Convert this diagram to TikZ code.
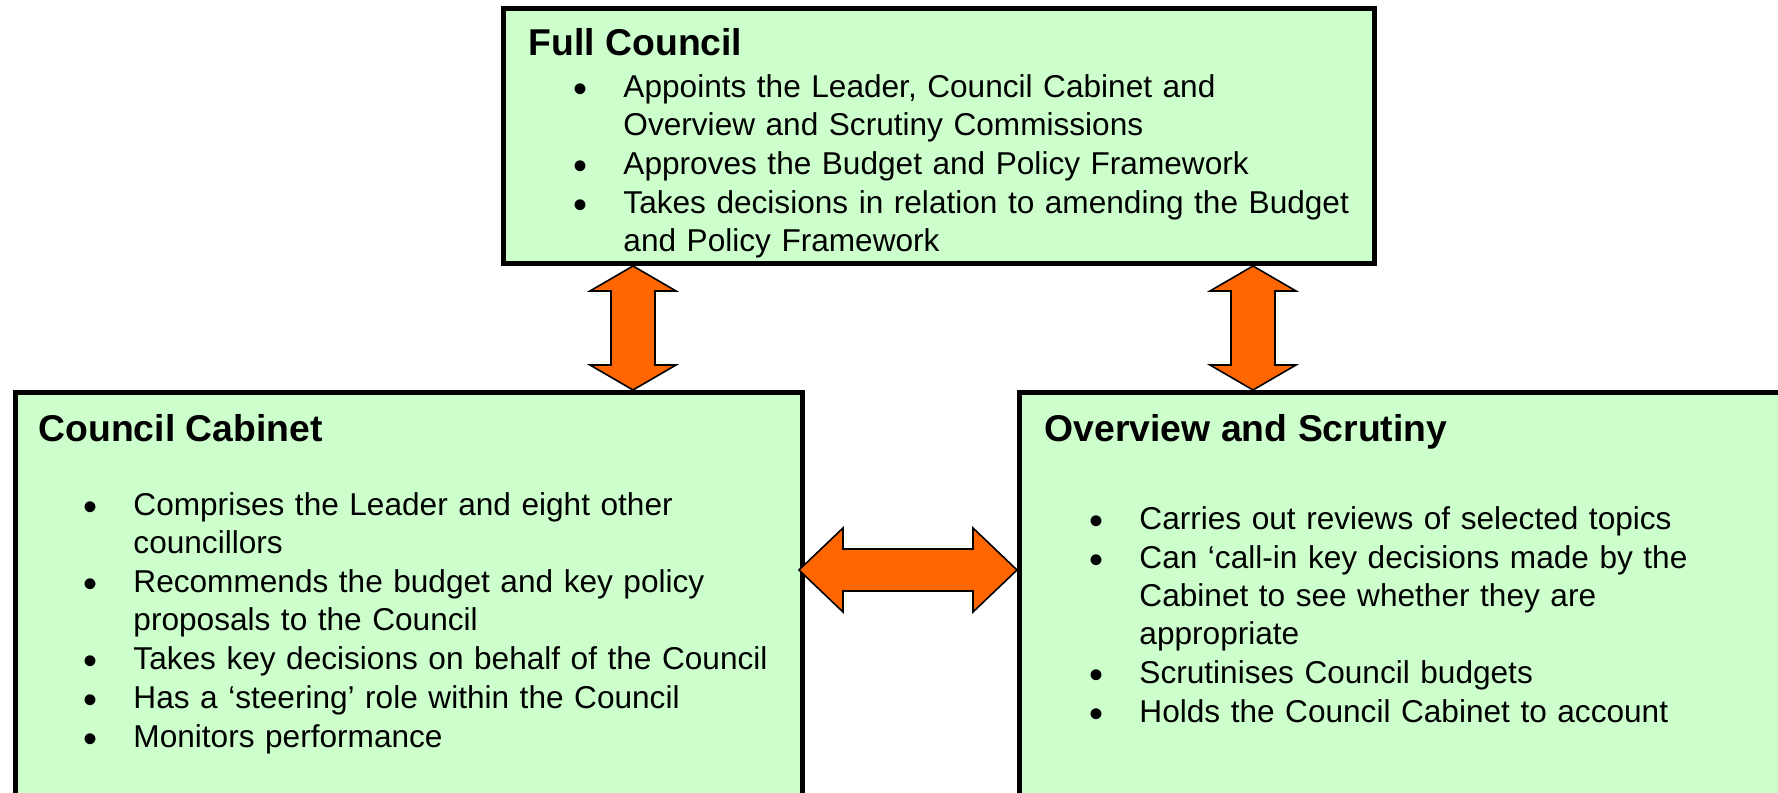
\documentclass[tikz,border=0pt]{standalone}
\usepackage{fontspec}
\setmainfont{Liberation Sans}
\usepackage{enumitem}
\usepackage{tikz}
\usetikzlibrary{positioning, calc}

\definecolor{panelgreen}{HTML}{CCFFCC}
\definecolor{arroworange}{HTML}{FF6600}
\setlist[itemize]{label={\fontsize{15pt}{14pt}\selectfont\raisebox{-1.8pt}{\textbullet}}, leftmargin=35.6pt, labelsep=13.4pt, topsep=0pt, partopsep=0pt, parsep=0pt, itemsep=0.3pt}
\newcommand{\paneltitle}[1]{{\fontsize{14pt}{14.3pt}\selectfont\bfseries #1\par}}

\begin{document}
\begin{tikzpicture}[x=0.375pt, y=-0.375pt,
  panel/.style={draw=black, line width=2pt, fill=panelgreen, inner sep=0pt, anchor=north west},
  paneltext/.style={anchor=north west, inner sep=0pt, font=\fontsize{11.85pt}{14.3pt}\selectfont},
  bigarrow/.style={draw=black, line width=0.6pt, fill=arroworange, line join=miter}]

\useasboundingbox (0,0) rectangle (1778,793);
\clip (0,0) rectangle (1778,793);

% the three panels
\node[panel, minimum width=326.5pt, minimum height=95.5pt] (full) at (501,6) {};
\node[panel, minimum width=295pt, minimum height=163pt] (cabinet) at (13,390) {};
\node[panel, minimum width=299pt, minimum height=163pt] (scrutiny) at (1017,390) {};

\node[paneltext, text width=318pt] (fulltext) at ($(full.north west)+(27,22)$) {%
  \paneltitle{Full Council}\vspace{1.45pt}
  \begin{itemize}
  \item Appoints the Leader, Council Cabinet and\newline Overview and Scrutiny Commissions
  \item Approves the Budget and Policy Framework
  \item Takes decisions in relation to amending the Budget\newline and Policy Framework
  \end{itemize}};

\node[paneltext, text width=287pt] (cabinettext) at ($(cabinet.north west)+(25,24)$) {%
  \paneltitle{Council Cabinet}\vspace{13.45pt}
  \begin{itemize}
  \item Comprises the Leader and eight other\newline councillors
  \item Recommends the budget and key policy\newline proposals to the Council
  \item Takes key decisions on behalf of the Council
  \item Has a ‘steering’ role within the Council
  \item Monitors performance
  \end{itemize}};

\node[paneltext, text width=290pt] (scrutinytext) at ($(scrutiny.north west)+(27,24)$) {%
  \paneltitle{Overview and Scrutiny}\vspace{18.7pt}
  \begin{itemize}
  \item Carries out reviews of selected topics
  \item Can ‘call-in key decisions made by the\newline Cabinet to see whether they are\newline appropriate
  \item Scrutinises Council budgets
  \item Holds the Council Cabinet to account
  \end{itemize}};

% double arrows
\coordinate (lefttop) at ($(full.south west)+(132,0)$);
\coordinate (righttop) at ($(full.south west)+(752,0)$);
\coordinate (leftbot) at (lefttop |- cabinet.north);
\coordinate (rightbot) at (righttop |- scrutiny.north);
\coordinate (midleft) at ($(cabinet.east |- 0,570)+(-6,0)$);
\coordinate (midright) at (scrutiny.west |- 0,570);

\foreach \a/\b in {lefttop/leftbot, righttop/rightbot}
  \draw[bigarrow] (\a) -- ++(43,25) -- ++(-21,0) -- ($(\b)+(22,-25)$) -- ++(21,0) -- (\b)
    -- ++(-43,-25) -- ++(21,0) -- ($(\a)+(-22,25)$) -- ++(-21,0) -- cycle;

\draw[bigarrow] (midleft) -- ++(44,-42) -- ++(0,21) -- ($(midright)+(-44,-21)$) -- ++(0,-21) -- (midright)
  -- ++(-44,42) -- ++(0,-21) -- ($(midleft)+(44,21)$) -- ++(0,21) -- cycle;
\end{tikzpicture}
\end{document}
